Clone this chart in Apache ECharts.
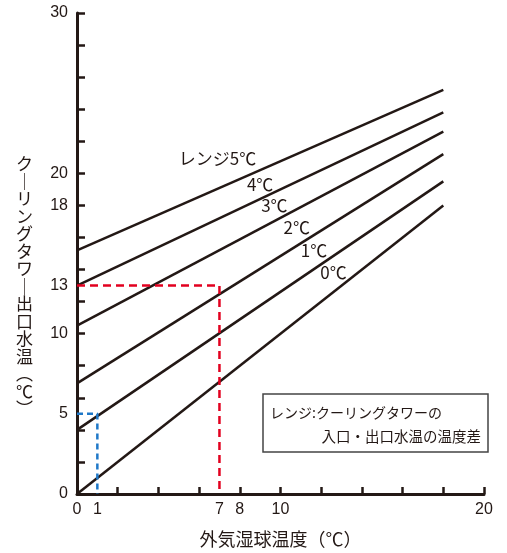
<!DOCTYPE html>
<html>
<head>
<meta charset="utf-8">
<script src="https://cdn.jsdelivr.net/npm/echarts@6/dist/echarts.min.js"></script>
<style>
  html, body { margin: 0; padding: 0; background: #fff; }
  #chart { width: 507px; height: 553px; }
</style>
</head>
<body>
<div id="chart"></div>
<script>
// 外気湿球温度 (x) の両端
var wetBulb = [0, 18];
// レンジごとの出口水温 (x=0 と x=18 の値)
var range5 = [15.2, 25.2];
var range4 = [13.0, 23.8];
var range3 = [10.5, 22.6];
var range2 = [6.9, 21.2];
var range1 = [4.0, 19.5];
var range0 = [0.0, 18.0];
var rangeNames = ['レンジ5℃', '4℃', '3℃', '2℃', '1℃', '0℃'];
// ラベル位置 (データ座標)
var labelPos = [[6.9, 20.9], [9.0, 19.3], [9.7, 18.0], [10.8, 16.6], [11.65, 15.2], [12.6, 13.8]];
// 読み取り例の破線
var redGuide = [[0, 13], [7, 13], [7, 0]];
var blueGuide = [[0, 5], [1, 5], [1, 0]];
// 目盛とラベル
var xTicks = [0, 2, 4, 6, 8, 10, 12, 14, 16, 18, 20];
var xLabels = [0, 1, 7, 8, 10, 20];
var yTicks = [0, 2, 4, 6, 8, 10, 12, 14, 16, 18, 20, 22, 24, 26, 28, 30];
var yLabels = [0, 5, 10, 13, 18, 20, 30];

var ink = '#231815';
var font = '"Liberation Sans", "Noto Sans CJK JP", sans-serif';
var jpFont = '"Noto Sans CJK JP", sans-serif';

function pairs(ys) {
  var out = [];
  for (var i = 0; i < wetBulb.length; i++) out.push([wetBulb[i], ys[i]]);
  return out;
}

var allRanges = [range5, range4, range3, range2, range1, range0];
var series = [];
for (var k = 0; k < allRanges.length; k++) {
  series.push({
    type: 'line',
    name: rangeNames[k],
    data: pairs(allRanges[k]),
    symbol: 'none',
    silent: true,
    lineStyle: { color: ink, width: 2.5 },
    markPoint: {
      symbol: 'circle',
      symbolSize: 0,
      data: [{ coord: labelPos[k] }],
      label: {
        show: true,
        position: 'inside',
        formatter: rangeNames[k],
        color: ink,
        fontSize: 17,
        fontFamily: jpFont
      }
    }
  });
}
series.push({
  type: 'line', data: redGuide, symbol: 'none', silent: true,
  lineStyle: { color: '#e2001f', width: 2.5, type: [8, 5] }
});
series.push({
  type: 'line', data: blueGuide, symbol: 'none', silent: true,
  lineStyle: { color: '#1f78c8', width: 2.5, type: [6, 4] }
});

// 縦書きの軸タイトル
var yTitleChars = ['ク', '｜', 'リ', 'ン', 'グ', 'タ', 'ワ', '｜', '出', '口', '水', '温', '︵', '℃', '︶'];

var option = {
  animation: false,
  backgroundColor: '#fff',
  grid: { left: 77, right: 23, top: 13, bottom: 54 },
  xAxis: {
    type: 'value',
    min: 0, max: 20,
    axisLine: { show: true, lineStyle: { color: ink, width: 3 } },
    axisTick: { show: true, inside: true, length: 7, customValues: xTicks, lineStyle: { color: ink, width: 2.5 } },
    axisLabel: { customValues: xLabels, color: ink, fontSize: 16, fontFamily: font, margin: 8 },
    splitLine: { show: false },
    name: '外気湿球温度（℃）',
    nameLocation: 'middle',
    nameGap: 36,
    nameTextStyle: { color: ink, fontSize: 18, fontFamily: jpFont }
  },
  yAxis: {
    type: 'value',
    min: 0, max: 30,
    axisLine: { show: true, lineStyle: { color: ink, width: 3 } },
    axisTick: { show: true, inside: true, length: 8, customValues: yTicks, lineStyle: { color: ink, width: 2.5 } },
    axisLabel: { customValues: yLabels, color: ink, fontSize: 16, fontFamily: font, margin: 9 },
    splitLine: { show: false }
  },
  graphic: [
    {
      type: 'text',
      left: 16, top: 155,
      style: {
        text: yTitleChars.join('\n'),
        fill: ink,
        fontSize: 17,
        lineHeight: 17.5,
        fontFamily: jpFont,
        align: 'center'
      }
    },
    {
      type: 'rect',
      shape: { x: 263, y: 394, width: 225, height: 58 },
      style: { fill: '#fff', stroke: '#444', lineWidth: 1.5 }
    },
    {
      type: 'text',
      x: 270, y: 413,
      style: { text: 'レンジ:クーリングタワーの', fill: ink, fontSize: 14, fontFamily: jpFont, verticalAlign: 'middle' }
    },
    {
      type: 'text',
      x: 481, y: 436,
      style: { text: '入口・出口水温の温度差', fill: ink, fontSize: 14.5, fontFamily: jpFont, align: 'right', verticalAlign: 'middle' }
    }
  ],
  series: series
};

var myChart = echarts.init(document.getElementById('chart'));
myChart.setOption(option);
</script>
</body>
</html>
